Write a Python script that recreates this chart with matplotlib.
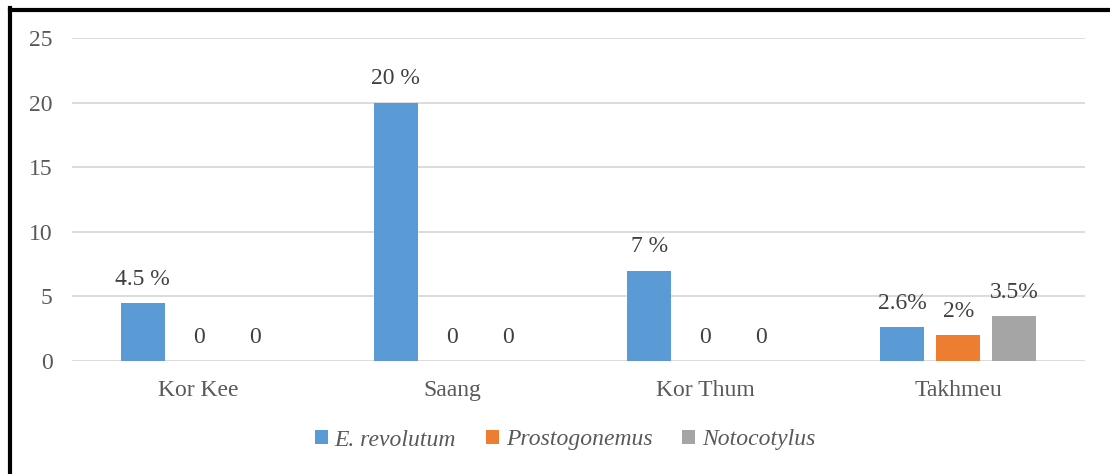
import matplotlib
matplotlib.use("Agg")
import matplotlib.pyplot as plt
import numpy as np
from matplotlib.patches import Patch
from matplotlib.lines import Line2D

categories = ["Kor Kee", "Saang", "Kor Thum", "Takhmeu"]
series_names = ["E. revolutum", "Prostogonemus", "Notocotylus"]
e_revolutum = [4.5, 20, 7, 2.6]
prostogonemus = [0, 0, 0, 2]
notocotylus = [0, 0, 0, 3.5]
e_labels = ["4.5 %", "20 %", "7 %", "2.6%"]
p_labels = ["0", "0", "0", "2%"]
n_labels = ["0", "0", "0", "3.5%"]
colors = ["#5B9BD5", "#ED7D31", "#A5A5A5"]
yticks = [0, 5, 10, 15, 20, 25]

plt.rcParams['font.family'] = ['Liberation Serif', 'DejaVu Serif']
txt = "#595959"

fig = plt.figure(figsize=(11.1, 4.74), dpi=100)
ax = fig.add_axes([72/1110, 1-361/474, (1085-72)/1110, (361-38)/474])

x = np.arange(len(categories))
w = 0.174
off = 0.221
data = [e_revolutum, prostogonemus, notocotylus]
labs = [e_labels, p_labels, n_labels]
for i, (vals, lab, c) in enumerate(zip(data, labs, colors)):
    pos = x + (i - 1) * off
    bars = ax.bar(pos, vals, width=w, color=c, zorder=3)
    for b, v, t in zip(bars, vals, lab):
        ax.annotate(t, (b.get_x() + b.get_width()/2, v), xytext=(0, 9.5),
                    textcoords="offset points", ha="center", va="bottom",
                    fontsize=17, color="#404040")

ax.set_xlim(-0.5, 3.5)
ax.set_ylim(0, 25)
ax.set_yticks(yticks)
ax.set_xticks(x)
ax.set_xticklabels(categories)
ax.tick_params(axis='both', length=0, labelsize=17, colors=txt)
ax.tick_params(axis='y', pad=14)
ax.tick_params(axis='x', pad=14)
for s in ax.spines.values():
    s.set_visible(False)
ax.yaxis.grid(True, color="#D9D9D9", linewidth=1.3, zorder=0)
ax.set_axisbelow(True)

handles = [Patch(facecolor=c, edgecolor='none') for c in colors]
leg = fig.legend(handles, series_names, loc="center", bbox_to_anchor=(565/1110, 1-440/474),
                 ncol=3, frameon=False, handlelength=0.55, handleheight=0.55,
                 handletextpad=0.3, columnspacing=1.25,
                 prop={'style': 'italic', 'size': 17})
for t in leg.get_texts():
    t.set_color(txt)

fig.add_artist(Line2D([10/1110, 10/1110], [0, 1-8/474], transform=fig.transFigure,
                      color="black", linewidth=3, solid_capstyle='projecting'))
fig.add_artist(Line2D([10/1110, 1], [1-10/474, 1-10/474], transform=fig.transFigure,
                      color="black", linewidth=3, solid_capstyle='projecting'))

fig.savefig("out.png", dpi=100, facecolor="white")
